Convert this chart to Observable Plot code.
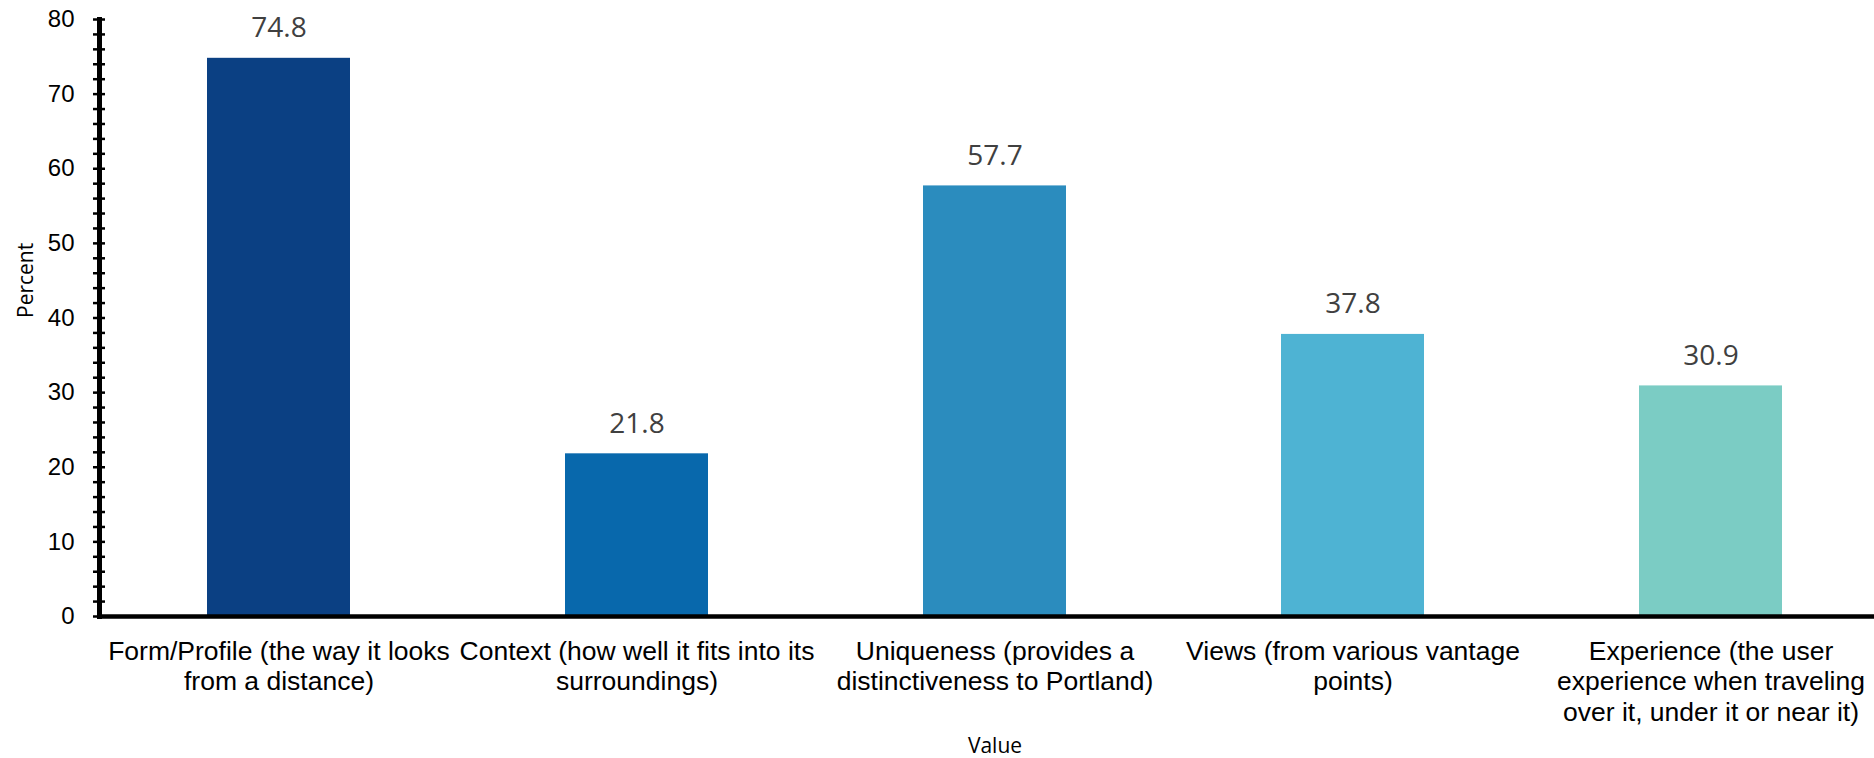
<!DOCTYPE html>
<html>
<head>
<meta charset="utf-8">
<script src="https://cdn.jsdelivr.net/npm/d3@7"></script>
<script src="https://cdn.jsdelivr.net/npm/@observablehq/plot@0.6"></script>
<style>
  html, body { margin: 0; padding: 0; background: #fff; overflow: hidden; }
</style>
</head>
<body>
<div id="chart"></div>
<script>
const categories = ["Form/Profile", "Context", "Uniqueness", "Views", "Experience"];
const categoryLabels = [
  "Form/Profile (the way it looks\nfrom a distance)",
  "Context (how well it fits into its\nsurroundings)",
  "Uniqueness (provides a\ndistinctiveness to Portland)",
  "Views (from various vantage\npoints)",
  "Experience (the user\nexperience when traveling\nover it, under it or near it)"
];
const values = [74.8, 21.8, 57.7, 37.8, 30.9];
const barColors = ["#0b4083", "#0868ac", "#2b8cbe", "#4eb3d3", "#7bccc4"];
const majorTicks = [0, 10, 20, 30, 40, 50, 60, 70, 80];
const minorTicks = [0, 2, 4, 6, 8, 10, 12, 14, 16, 18, 20, 22, 24, 26, 28, 30, 32, 34, 36, 38, 40,
  42, 44, 46, 48, 50, 52, 54, 56, 58, 60, 62, 64, 66, 68, 70, 72, 74, 76, 78, 80];
const yLabel = "Percent";
const xLabel = "Value";

const data = categories.map((c, i) => ({category: c, label: categoryLabels[i], value: values[i]}));

const sans = "'Liberation Sans', Arial, sans-serif";
const open = "'Open Sans', 'Noto Sans', sans-serif";

const chart = Plot.plot({
  width: 1874,
  height: 758,
  marginLeft: 99,
  marginRight: 0,
  marginTop: 19,
  marginBottom: 142,
  style: {background: "#fff", fontFamily: sans, color: "#000"},
  x: {domain: categories, range: [99, 1890], paddingInner: 0.6, paddingOuter: 0.3, axis: null},
  y: {domain: [0, 80], axis: null},
  color: {domain: categories, range: barColors},
  marks: [
    Plot.barY(data, {x: "category", y: "value", fill: "category"}),
    Plot.text(data, {
      x: "category", y: "value", text: d => d.value.toFixed(1),
      lineAnchor: "bottom", dy: -21, fontSize: 28, fill: "#404040", fontFamily: open
    }),
    Plot.text(data, {
      x: "category", frameAnchor: "bottom", text: "label",
      lineAnchor: "top", dy: 21.5, fontSize: 26.5, lineHeight: 1.15, fill: "#000", fontFamily: sans
    }),
    Plot.axisY(minorTicks, {tickSize: 12, dx: 6, tickFormat: () => "", strokeWidth: 2.5, stroke: "#000", label: null}),
    Plot.axisY(majorTicks, {tickSize: 0, tickPadding: 25, fontSize: 24, fill: "#000", label: null, fontFamily: sans}),
    Plot.ruleY([0], {stroke: "#000", strokeWidth: 4.5}),
    Plot.frame({anchor: "left", stroke: "#000", strokeWidth: 5}),
    Plot.text([yLabel], {
      frameAnchor: "left", rotate: -90, dx: -67, lineAnchor: "bottom",
      fontSize: 21, fill: "#000", fontFamily: open
    }),
    Plot.text([xLabel], {
      frameAnchor: "bottom", dy: 136, dx: 8, lineAnchor: "bottom",
      fontSize: 21, fill: "#000", fontFamily: open
    })
  ]
});
document.getElementById("chart").appendChild(chart);
</script>
</body>
</html>
